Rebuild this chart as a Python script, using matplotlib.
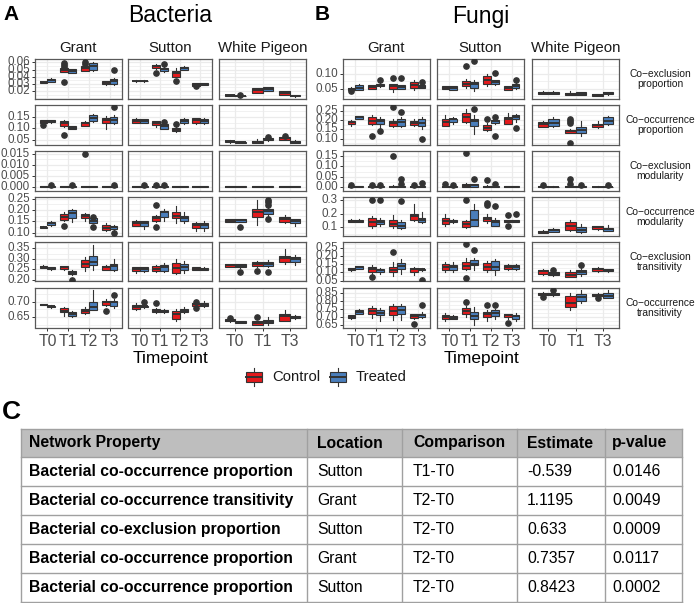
import matplotlib
matplotlib.use("Agg")
import matplotlib.pyplot as plt
from matplotlib.patches import Rectangle
from matplotlib.ticker import MultipleLocator, FormatStrFormatter

plt.rcParams['font.family'] = ['Liberation Sans', 'DejaVu Sans']

# ---------------- data ----------------
TP_FULL = ["T0", "T1", "T2", "T3"]
TP_WP = ["T0", "T1", "T3"]
LOCATIONS = ["Grant", "Sutton", "White Pigeon"]
GROUPS = ["Control", "Treated"]
ROW_LABELS = ["Co\u2212exclusion\nproportion", "Co\u2212occurrence\nproportion",
              "Co\u2212exclusion\nmodularity", "Co\u2212occurrence\nmodularity",
              "Co\u2212exclusion\ntransitivity", "Co\u2212occurrence\ntransitivity"]

# each box: (whisker_low, q1, median, q3, whisker_high, outliers); order T0C, T0T, T1C, T1T, ...
# ---- Bacteria ----
B_EXCL_PROP_GRANT = [(0.0312, 0.0315, 0.032, 0.0325, 0.033, ()), (0.0325, 0.033, 0.035, 0.037, 0.0385, ()),
                     (0.046, 0.047, 0.049, 0.0515, 0.053, (0.0595, 0.056, 0.054, 0.032)), (0.045, 0.0455, 0.048, 0.0505, 0.051, ()),
                     (0.048, 0.0485, 0.0515, 0.055, 0.0555, (0.061, 0.058)), (0.048, 0.049, 0.055, 0.0585, 0.06, ()),
                     (0.029, 0.0295, 0.031, 0.0335, 0.034, ()), (0.029, 0.0295, 0.0335, 0.037, 0.038, (0.049,))]
B_EXCL_PROP_SUTTON = [(0.033, 0.0335, 0.034, 0.0345, 0.035, ()), (0.033, 0.0335, 0.034, 0.0345, 0.035, ()),
                      (0.051, 0.0515, 0.055, 0.057, 0.058, (0.0455,)), (0.047, 0.0475, 0.051, 0.0525, 0.053, (0.0575,)),
                      (0.0395, 0.040, 0.0445, 0.048, 0.0515, (0.0335,)), (0.049, 0.0495, 0.0515, 0.054, 0.0545, ()),
                      (0.027, 0.0275, 0.029, 0.031, 0.0315, (0.0265,)), (0.028, 0.0285, 0.0295, 0.031, 0.0315, ())]
B_EXCL_PROP_WP = [(0.0125, 0.013, 0.014, 0.0145, 0.015, ()), (0.012, 0.0125, 0.013, 0.0135, 0.014, (0.0148,)),
                  (0.017, 0.0178, 0.021, 0.024, 0.0245, ()), (0.0195, 0.020, 0.0228, 0.0255, 0.026, ()),
                  (0.0145, 0.015, 0.017, 0.0195, 0.020, ()), (0.012, 0.0125, 0.0135, 0.0148, 0.015, ())]

B_OCC_PROP_GRANT = [(0.12, 0.122, 0.128, 0.136, 0.138, (0.116,)), (0.124, 0.126, 0.131, 0.134, 0.135, ()),
                    (0.106, 0.110, 0.124, 0.132, 0.135, (0.069,)), (0.095, 0.097, 0.103, 0.108, 0.11, ()),
                    (0.108, 0.110, 0.121, 0.128, 0.13, ()), (0.128, 0.131, 0.143, 0.158, 0.162, ()),
                    (0.0985, 0.124, 0.135, 0.147, 0.153, ()), (0.119, 0.121, 0.135, 0.15, 0.157, (0.193,))]
B_OCC_PROP_SUTTON = [(0.122, 0.124, 0.132, 0.141, 0.143, ()), (0.123, 0.125, 0.132, 0.139, 0.141, ()),
                     (0.105, 0.113, 0.124, 0.13, 0.132, ()), (0.097, 0.099, 0.109, 0.117, 0.119, (0.127,)),
                     (0.084, 0.087, 0.094, 0.101, 0.105, (0.117,)), (0.118, 0.121, 0.131, 0.140, 0.147, ()),
                     (0.12, 0.124, 0.135, 0.143, 0.147, ()), (0.12, 0.122, 0.132, 0.142, 0.145, ())]
B_OCC_PROP_WP = [(0.038, 0.040, 0.044, 0.046, 0.047, ()), (0.034, 0.035, 0.0387, 0.039, 0.040, ()),
                 (0.036, 0.037, 0.041, 0.046, 0.053, ()), (0.046, 0.047, 0.052, 0.056, 0.057, (0.062,)),
                 (0.049, 0.050, 0.057, 0.061, 0.062, (0.068,)), (0.034, 0.035, 0.041, 0.046, 0.047, ())]

B_EXCL_MOD_GRANT = [(0.0, 0.0001, 0.0002, 0.0004, 0.0006, ()), (0.0, 0.0001, 0.0002, 0.0004, 0.0006, (0.0008,)),
                    (0.0, 0.0001, 0.0002, 0.0004, 0.0006, ()), (0.0, 0.0001, 0.0002, 0.0004, 0.0006, (0.0008,)),
                    (0.0, 0.0001, 0.0002, 0.0003, 0.0005, (0.0148,)), (0.0, 0.0001, 0.0002, 0.0004, 0.0005, ()),
                    (0.0, 0.0001, 0.0002, 0.0004, 0.0006, ()), (0.0, 0.0001, 0.0002, 0.0004, 0.0006, (0.0008,))]
B_EXCL_MOD_SUTTON = [(0.0, 0.0001, 0.0002, 0.0004, 0.0006, ()), (0.0, 0.0001, 0.0002, 0.0004, 0.0006, (0.0009,)),
                     (0.0, 0.0001, 0.0002, 0.0004, 0.0006, (0.0008,)), (0.0, 0.0001, 0.0002, 0.0004, 0.0006, (0.0008,)),
                     (0.0, 0.0001, 0.0002, 0.0004, 0.0006, ()), (0.0, 0.0001, 0.0002, 0.0004, 0.0006, ()),
                     (0.0, 0.0001, 0.0002, 0.0003, 0.0005, ()), (0.0, 0.0001, 0.0002, 0.0003, 0.0005, ())]
B_EXCL_MOD_WP = [(0.0, 0.0001, 0.0002, 0.0003, 0.0005, ()), (0.0, 0.0001, 0.0002, 0.0003, 0.0005, ()),
                 (0.0, 0.0001, 0.0002, 0.0003, 0.0005, ()), (0.0, 0.0001, 0.0002, 0.0003, 0.0005, ()),
                 (0.0, 0.0001, 0.0002, 0.0004, 0.0006, ()), (0.0, 0.0001, 0.0002, 0.0003, 0.0005, ())]

B_OCC_MOD_GRANT = [(0.118, 0.120, 0.123, 0.126, 0.128, ()), (0.128, 0.133, 0.141, 0.148, 0.150, ()),
                   (0.150, 0.155, 0.170, 0.180, 0.192, (0.129,)), (0.148, 0.165, 0.187, 0.199, 0.202, ()),
                   (0.150, 0.1625, 0.173, 0.180, 0.187, ()), (0.140, 0.144, 0.152, 0.1625, 0.165, (0.170, 0.126)),
                   (0.105, 0.109, 0.119, 0.133, 0.143, ()), (0.110, 0.114, 0.123, 0.130, 0.132, (0.0975,))]
B_OCC_MOD_SUTTON = [(0.127, 0.130, 0.144, 0.151, 0.154, ()), (0.115, 0.128, 0.144, 0.149, 0.150, ()),
                    (0.145, 0.152, 0.166, 0.174, 0.178, (0.224, 0.123)), (0.150, 0.167, 0.189, 0.196, 0.203, ()),
                    (0.14, 0.1625, 0.174, 0.192, 0.217, ()), (0.14, 0.151, 0.1625, 0.174, 0.192, ()),
                    (0.108, 0.122, 0.133, 0.141, 0.148, ()), (0.107, 0.119, 0.133, 0.144, 0.15, ())]
B_OCC_MOD_WP = [(0.146, 0.148, 0.152, 0.158, 0.159, ()), (0.145, 0.148, 0.155, 0.160, 0.162, (0.126,)),
                (0.133, 0.170, 0.189, 0.206, 0.246, ()), (0.17, 0.184, 0.195, 0.203, 0.21, (0.245, 0.235, 0.224, 0.158)),
                (0.140, 0.145, 0.158, 0.170, 0.177, ()), (0.130, 0.144, 0.151, 0.158, 0.162, ())]

B_EXCL_TRANS_GRANT = [(0.256, 0.258, 0.262, 0.267, 0.269, ()), (0.247, 0.250, 0.255, 0.260, 0.261, ()),
                      (0.247, 0.252, 0.259, 0.265, 0.268, ()), (0.223, 0.229, 0.234, 0.241, 0.245, (0.197,)),
                      (0.240, 0.259, 0.275, 0.295, 0.31, ()), (0.249, 0.270, 0.286, 0.314, 0.368, ()),
                      (0.245, 0.249, 0.259, 0.265, 0.272, ()), (0.243, 0.249, 0.265, 0.278, 0.30, ())]
B_EXCL_TRANS_SUTTON = [(0.234, 0.242, 0.250, 0.259, 0.262, ()), (0.238, 0.242, 0.250, 0.259, 0.261, ()),
                       (0.238, 0.241, 0.250, 0.265, 0.273, ()), (0.238, 0.242, 0.259, 0.270, 0.282, ()),
                       (0.228, 0.234, 0.257, 0.282, 0.30, ()), (0.234, 0.246, 0.262, 0.275, 0.29, ()),
                       (0.246, 0.249, 0.254, 0.259, 0.263, ()), (0.246, 0.249, 0.253, 0.257, 0.259, ())]
B_EXCL_TRANS_WP = [(0.26, 0.262, 0.269, 0.2735, 0.275, ()), (0.257, 0.259, 0.267, 0.2735, 0.275, (0.2376,)),
                   (0.262, 0.267, 0.276, 0.286, 0.289, (0.2425,)), (0.262, 0.267, 0.276, 0.283, 0.294, (0.2376,)),
                   (0.278, 0.283, 0.303, 0.314, 0.346, ()), (0.269, 0.286, 0.298, 0.308, 0.32, ())]

B_OCC_TRANS_GRANT = [(0.688, 0.689, 0.690, 0.692, 0.693, ()), (0.681, 0.682, 0.685, 0.687, 0.688, ()),
                     (0.655, 0.666, 0.671, 0.679, 0.684, ()), (0.650, 0.655, 0.660, 0.666, 0.671, ()),
                     (0.660, 0.663, 0.669, 0.677, 0.684, ()), (0.673, 0.673, 0.682, 0.698, 0.735, ()),
                     (0.687, 0.689, 0.698, 0.703, 0.708, (0.671,)), (0.680, 0.687, 0.697, 0.703, 0.708, (0.719,))]
B_OCC_TRANS_SUTTON = [(0.674, 0.677, 0.684, 0.690, 0.695, ()), (0.68, 0.682, 0.685, 0.687, 0.69, (0.70,)),
                      (0.664, 0.666, 0.671, 0.677, 0.68, (0.695,)), (0.664, 0.666, 0.670, 0.673, 0.675, ()),
                      (0.638, 0.645, 0.661, 0.671, 0.677, ()), (0.664, 0.666, 0.671, 0.677, 0.684, ()),
                      (0.684, 0.687, 0.693, 0.696, 0.698, (0.70, 0.679)), (0.682, 0.687, 0.690, 0.695, 0.703, ())]
B_OCC_TRANS_WP = [(0.636, 0.637, 0.640, 0.6436, 0.644, (0.647,)), (0.631, 0.632, 0.635, 0.638, 0.639, ()),
                  (0.625, 0.627, 0.632, 0.637, 0.639, (0.65,)), (0.627, 0.631, 0.636, 0.6415, 0.65, ()),
                  (0.637, 0.639, 0.653, 0.661, 0.673, ()), (0.646, 0.648, 0.652, 0.655, 0.656, ())]

# ---- Fungi ----
F_EXCL_PROP_GRANT = [(0.045, 0.0455, 0.049, 0.053, 0.055, (0.041,)), (0.0445, 0.047, 0.053, 0.061, 0.067, ()),
                     (0.048, 0.05, 0.0556, 0.061, 0.063, ()), (0.055, 0.058, 0.060, 0.0667, 0.07, (0.078,)),
                     (0.039, 0.05, 0.058, 0.0644, 0.067, (0.0867,)), (0.048, 0.05, 0.056, 0.061, 0.063, (0.0867,)),
                     (0.047, 0.053, 0.063, 0.072, 0.080, ()), (0.052, 0.053, 0.056, 0.061, 0.063, (0.072,))]
F_EXCL_PROP_SUTTON = [(0.049, 0.05, 0.053, 0.058, 0.059, ()), (0.045, 0.0467, 0.053, 0.058, 0.06, ()),
                      (0.053, 0.058, 0.0667, 0.0756, 0.083, (0.1256,)), (0.042, 0.053, 0.064, 0.072, 0.078, (0.142,)),
                      (0.058, 0.0667, 0.078, 0.091, 0.10, ()), (0.062, 0.0644, 0.072, 0.078, 0.08, (0.103,)),
                      (0.045, 0.0467, 0.053, 0.058, 0.06, ()), (0.05, 0.053, 0.059, 0.064, 0.068, (0.080,))]
F_EXCL_PROP_WP = [(0.032, 0.033, 0.0367, 0.04, 0.041, ()), (0.032, 0.033, 0.0367, 0.04, 0.041, ()),
                  (0.028, 0.028, 0.031, 0.0367, 0.044, ()), (0.029, 0.030, 0.033, 0.038, 0.039, ()),
                  (0.026, 0.0267, 0.030, 0.033, 0.034, ()), (0.030, 0.031, 0.035, 0.0378, 0.038, ())]

F_OCC_PROP_GRANT = [(0.168, 0.181, 0.1886, 0.196, 0.20, ()), (0.206, 0.208, 0.2175, 0.221, 0.223, ()),
                    (0.176, 0.181, 0.196, 0.214, 0.226, (0.113,)), (0.158, 0.178, 0.196, 0.208, 0.217, (0.1416,)),
                    (0.163, 0.167, 0.1867, 0.196, 0.208, (0.268,)), (0.163, 0.167, 0.19, 0.208, 0.217, (0.2446,)),
                    (0.167, 0.172, 0.1867, 0.196, 0.208, ()), (0.154, 0.169, 0.1867, 0.208, 0.217, (0.10,))]
F_OCC_PROP_SUTTON = [(0.167, 0.169, 0.19, 0.208, 0.226, ()), (0.181, 0.19, 0.205, 0.208, 0.217, ()),
                     (0.185, 0.19, 0.214, 0.2355, 0.26, ()), (0.1235, 0.167, 0.196, 0.208, 0.226, (0.259,)),
                     (0.141, 0.149, 0.16, 0.172, 0.185, (0.208,)), (0.181, 0.185, 0.196, 0.203, 0.205, (0.214, 0.113)),
                     (0.178, 0.181, 0.208, 0.2175, 0.239, ()), (0.19, 0.205, 0.2175, 0.2265, 0.235, (0.16,))]
F_OCC_PROP_WP = [(0.163, 0.163, 0.178, 0.19, 0.196, ()), (0.163, 0.169, 0.187, 0.205, 0.2145, ()),
                 (0.13, 0.131, 0.1416, 0.149, 0.152, (0.208, 0.196, 0.187, 0.0765)), (0.113, 0.132, 0.149, 0.163, 0.196, ()),
                 (0.16, 0.163, 0.174, 0.181, 0.196, ()), (0.172, 0.178, 0.196, 0.214, 0.22, ())]

F_EXCL_MOD_GRANT = [(0.0, 0.002, 0.004, 0.006, 0.008, (0.012,)), (0.0, 0.001, 0.003, 0.005, 0.007, ()),
                    (0.0, 0.002, 0.004, 0.006, 0.008, (0.013,)), (0.0, 0.001, 0.003, 0.005, 0.007, (0.012,)),
                    (0.0, 0.002, 0.004, 0.006, 0.009, (0.147,)), (0.0, 0.001, 0.003, 0.006, 0.01, (0.038, 0.015)),
                    (0.0, 0.002, 0.004, 0.006, 0.008, (0.012,)), (0.0, 0.002, 0.004, 0.007, 0.01, (0.019,))]
F_EXCL_MOD_SUTTON = [(0.0, 0.001, 0.003, 0.005, 0.007, (0.015,)), (0.0, 0.001, 0.003, 0.005, 0.007, (0.010,)),
                     (0.0, 0.003, 0.008, 0.015, 0.02, (0.165,)), (0.0, 0.004, 0.01, 0.014, 0.018, (0.0385,)),
                     (0.0, 0.002, 0.004, 0.006, 0.009, (0.034,)), (0.0, 0.002, 0.004, 0.007, 0.01, (0.015,)),
                     (0.0, 0.001, 0.003, 0.005, 0.007, ()), (0.0, 0.001, 0.003, 0.005, 0.007, ())]
F_EXCL_MOD_WP = [(0.0, 0.001, 0.003, 0.005, 0.007, (0.012,)), (0.0, 0.001, 0.002, 0.004, 0.006, ()),
                 (0.0, 0.002, 0.004, 0.006, 0.008, (0.0385, 0.015)), (0.0, 0.001, 0.003, 0.005, 0.007, (0.012,)),
                 (0.0, 0.001, 0.002, 0.004, 0.006, ()), (0.0, 0.001, 0.002, 0.004, 0.006, (0.01,))]

F_OCC_MOD_GRANT = [(0.135, 0.137, 0.146, 0.156, 0.158, ()), (0.135, 0.137, 0.146, 0.156, 0.158, ()),
                   (0.09, 0.111, 0.139, 0.168, 0.18, (0.30,)), (0.105, 0.126, 0.141, 0.156, 0.168, (0.30,)),
                   (0.09, 0.109, 0.126, 0.151, 0.19, ()), (0.085, 0.092, 0.111, 0.137, 0.15, (0.296,)),
                   (0.143, 0.156, 0.18, 0.20, 0.27, ()), (0.13, 0.137, 0.153, 0.17, 0.21, ())]
F_OCC_MOD_SUTTON = [(0.11, 0.121, 0.143, 0.168, 0.20, ()), (0.128, 0.136, 0.146, 0.156, 0.16, ()),
                    (0.09, 0.104, 0.12, 0.143, 0.156, (0.306,)), (0.105, 0.111, 0.155, 0.23, 0.27, ()),
                    (0.13, 0.143, 0.163, 0.175, 0.20, (0.28, 0.267)), (0.107, 0.11, 0.137, 0.153, 0.17, (0.26,)),
                    (0.136, 0.136, 0.148, 0.153, 0.153, (0.19, 0.11)), (0.136, 0.136, 0.146, 0.153, 0.153, (0.195,))]
F_OCC_MOD_WP = [(0.055, 0.057, 0.066, 0.074, 0.076, ()), (0.062, 0.067, 0.077, 0.087, 0.09, ()),
                (0.07, 0.081, 0.111, 0.136, 0.15, ()), (0.055, 0.064, 0.081, 0.10, 0.12, ()),
                (0.08, 0.087, 0.099, 0.106, 0.111, ()), (0.07, 0.074, 0.087, 0.094, 0.115, ())]

F_EXCL_TRANS_GRANT = [(0.11, 0.112, 0.119, 0.1265, 0.128, ()), (0.12, 0.123, 0.13, 0.137, 0.138, ()),
                      (0.09, 0.102, 0.119, 0.133, 0.145, (0.071,)), (0.09, 0.10, 0.112, 0.12, 0.128, ()),
                      (0.075, 0.10, 0.117, 0.135, 0.16, (0.225,)), (0.09, 0.123, 0.136, 0.157, 0.18, ()),
                      (0.086, 0.099, 0.119, 0.1265, 0.133, ()), (0.108, 0.112, 0.119, 0.12, 0.125, (0.051,))]
F_EXCL_TRANS_SUTTON = [(0.10, 0.112, 0.134, 0.149, 0.164, ()), (0.10, 0.114, 0.134, 0.147, 0.16, ()),
                       (0.112, 0.123, 0.138, 0.164, 0.187, (0.273, 0.067)), (0.112, 0.143, 0.153, 0.178, 0.19, (0.236,)),
                       (0.10, 0.112, 0.134, 0.154, 0.168, ()), (0.081, 0.112, 0.133, 0.168, 0.18, ()),
                       (0.112, 0.12, 0.134, 0.147, 0.153, ()), (0.115, 0.12, 0.132, 0.143, 0.148, ())]
F_EXCL_TRANS_WP = [(0.086, 0.092, 0.107, 0.117, 0.123, ()), (0.078, 0.081, 0.090, 0.102, 0.104, (0.115,)),
                   (0.07, 0.071, 0.086, 0.102, 0.112, ()), (0.078, 0.088, 0.10, 0.117, 0.128, (0.143,)),
                   (0.10, 0.108, 0.119, 0.126, 0.133, ()), (0.105, 0.108, 0.112, 0.119, 0.12, ())]

F_OCC_TRANS_GRANT = [(0.69, 0.693, 0.70, 0.71, 0.712, ()), (0.716, 0.721, 0.731, 0.742, 0.75, ()),
                     (0.693, 0.716, 0.74, 0.76, 0.77, ()), (0.675, 0.71, 0.727, 0.747, 0.758, ()),
                     (0.68, 0.714, 0.74, 0.768, 0.78, ()), (0.68, 0.721, 0.746, 0.768, 0.78, ()),
                     (0.69, 0.693, 0.705, 0.716, 0.72, (0.656,)), (0.695, 0.699, 0.714, 0.721, 0.73, (0.775,))]
F_OCC_TRANS_SUTTON = [(0.675, 0.689, 0.70, 0.714, 0.725, ()), (0.685, 0.689, 0.695, 0.707, 0.71, ()),
                      (0.70, 0.716, 0.74, 0.757, 0.77, (0.796,)), (0.65, 0.689, 0.705, 0.731, 0.765, ()),
                      (0.675, 0.70, 0.716, 0.731, 0.742, (0.775,)), (0.69, 0.705, 0.725, 0.742, 0.75, (0.775,)),
                      (0.689, 0.70, 0.711, 0.716, 0.72, (0.66,)), (0.675, 0.689, 0.705, 0.714, 0.725, ())]
F_OCC_TRANS_WP = [(0.835, 0.839, 0.847, 0.854, 0.856, (0.824,)), (0.835, 0.839, 0.845, 0.85, 0.852, (0.871,)),
                  (0.742, 0.764, 0.79, 0.833, 0.85, ()), (0.79, 0.802, 0.824, 0.846, 0.87, ()),
                  (0.828, 0.83, 0.839, 0.846, 0.85, (0.822,)), (0.818, 0.82, 0.835, 0.854, 0.87, ())]

# ---- Table ----
TABLE_HEADER = ["Network Property", "Location", "Comparison", "Estimate", "p-value"]
TAB_PROPERTY = ["Bacterial co-occurrence proportion", "Bacterial co-occurrence transitivity",
                "Bacterial co-exclusion proportion", "Bacterial co-occurrence proportion",
                "Bacterial co-occurrence proportion"]
TAB_LOCATION = ["Sutton", "Grant", "Sutton", "Grant", "Sutton"]
TAB_COMPARISON = ["T1-T0", "T2-T0", "T2-T0", "T2-T0", "T2-T0"]
TAB_ESTIMATE = ["-0.539", "1.1195", "0.633", "0.7357", "0.8423"]
TAB_PVALUE = ["0.0146", "0.0049", "0.0009", "0.0117", "0.0002"]

# ---------------- layout / style ----------------
BAC_PANELS = [
    [B_EXCL_PROP_GRANT, B_EXCL_PROP_SUTTON, B_EXCL_PROP_WP],
    [B_OCC_PROP_GRANT, B_OCC_PROP_SUTTON, B_OCC_PROP_WP],
    [B_EXCL_MOD_GRANT, B_EXCL_MOD_SUTTON, B_EXCL_MOD_WP],
    [B_OCC_MOD_GRANT, B_OCC_MOD_SUTTON, B_OCC_MOD_WP],
    [B_EXCL_TRANS_GRANT, B_EXCL_TRANS_SUTTON, B_EXCL_TRANS_WP],
    [B_OCC_TRANS_GRANT, B_OCC_TRANS_SUTTON, B_OCC_TRANS_WP],
]
FUN_PANELS = [
    [F_EXCL_PROP_GRANT, F_EXCL_PROP_SUTTON, F_EXCL_PROP_WP],
    [F_OCC_PROP_GRANT, F_OCC_PROP_SUTTON, F_OCC_PROP_WP],
    [F_EXCL_MOD_GRANT, F_EXCL_MOD_SUTTON, F_EXCL_MOD_WP],
    [F_OCC_MOD_GRANT, F_OCC_MOD_SUTTON, F_OCC_MOD_WP],
    [F_EXCL_TRANS_GRANT, F_EXCL_TRANS_SUTTON, F_EXCL_TRANS_WP],
    [F_OCC_TRANS_GRANT, F_OCC_TRANS_SUTTON, F_OCC_TRANS_WP],
]
BAC_YLIM = [(0.0096, 0.0647), (0.0294, 0.2015), (-0.0016, 0.0162), (0.0824, 0.2573), (0.192, 0.381), (0.618, 0.7426)]
BAC_YTICKS = [[0.02, 0.03, 0.04, 0.05, 0.06], [0.05, 0.10, 0.15], [0.0, 0.005, 0.010, 0.015],
              [0.10, 0.15, 0.20, 0.25], [0.20, 0.25, 0.30, 0.35], [0.65, 0.70]]
BAC_FMT = ["%.2f", "%.2f", "%.3f", "%.2f", "%.2f", "%.2f"]
FUN_YLIM = [(0.0178, 0.1478), (0.0693, 0.2807), (-0.015, 0.173), (0.03, 0.326), (0.044, 0.285), (0.633, 0.884)]
FUN_YTICKS = [[0.05, 0.10], [0.10, 0.15, 0.20, 0.25], [0.0, 0.05, 0.10, 0.15], [0.1, 0.2, 0.3],
              [0.05, 0.10, 0.15, 0.20, 0.25], [0.65, 0.70, 0.75, 0.80, 0.85]]
FUN_FMT = ["%.2f", "%.2f", "%.2f", "%.1f", "%.2f", "%.2f"]

COLORS = ["#E41A1C", "#4A7EBB"]
DARK = "#333333"
GRID = "#EBEBEB"

W, H = 696, 603
fig = plt.figure(figsize=(W / 100, H / 100), dpi=100)

BAC_X = [(35, 122), (128, 212), (219, 306)]
FUN_X = [(343, 430), (437, 524), (532, 619)]
ROW_TOP = [59, 105, 151, 197, 242, 288]
ROW_H = 39.5


def add_ax(x0, x1, ytop, h):
    return fig.add_axes([x0 / W, 1 - (ytop + h) / H, (x1 - x0) / W, h / H])


def draw_panel(ax, boxes, tps, ylim, yticks, fmt, show_y, show_x):
    stats, pos, cols = [], [], []
    for i in range(len(tps)):
        for g in range(2):
            b = boxes[2 * i + g]
            stats.append(dict(whislo=b[0], q1=b[1], med=b[2], q3=b[3], whishi=b[4], fliers=list(b[5])))
            pos.append(i + 1 + (-0.19 if g == 0 else 0.19))
            cols.append(COLORS[g])
    res = ax.bxp(stats, positions=pos, widths=0.38, patch_artist=True, showcaps=False,
                 boxprops=dict(edgecolor=DARK, linewidth=0.8),
                 whiskerprops=dict(color=DARK, linewidth=0.8),
                 medianprops=dict(color=DARK, linewidth=1.4),
                 flierprops=dict(marker='o', markerfacecolor=DARK, markeredgecolor=DARK,
                                 markersize=3.8, linestyle='none'),
                 manage_ticks=False, zorder=3)
    for patch, c in zip(res['boxes'], cols):
        patch.set_facecolor(c)
    n = len(tps)
    ax.set_xlim(0.4, n + 0.6)
    ax.set_ylim(*ylim)
    ax.set_xticks(range(1, n + 1))
    ax.set_xticklabels(tps)
    ax.set_yticks(yticks)
    step = yticks[1] - yticks[0]
    ax.yaxis.set_minor_locator(MultipleLocator(step / 2))
    ax.yaxis.set_major_formatter(FormatStrFormatter(fmt))
    ax.set_axisbelow(True)
    ax.grid(True, which='major', color=GRID, linewidth=0.9)
    ax.grid(True, which='minor', axis='y', color=GRID, linewidth=0.5)
    for s in ax.spines.values():
        s.set_color("#595959")
        s.set_linewidth(0.9)
    ax.tick_params(which='minor', length=0)
    ax.tick_params(axis='y', which='major', length=2.5, width=0.7, color=DARK, pad=1.2,
                   labelsize=8.4, labelcolor="#4D4D4D", left=show_y, labelleft=show_y)
    ax.tick_params(axis='x', which='major', length=2.5, width=0.7, color=DARK, pad=2,
                   labelsize=11.3, labelcolor="#4D4D4D", bottom=show_x, labelbottom=show_x)
    if show_y:
        for lab in ax.get_yticklabels():
            lab.set_verticalalignment('center')


for panels, xs, ylims, yts, fmts in [(BAC_PANELS, BAC_X, BAC_YLIM, BAC_YTICKS, BAC_FMT),
                                      (FUN_PANELS, FUN_X, FUN_YLIM, FUN_YTICKS, FUN_FMT)]:
    for r in range(6):
        for c in range(3):
            ax = add_ax(xs[c][0], xs[c][1], ROW_TOP[r], ROW_H)
            tps = TP_WP if c == 2 else TP_FULL
            draw_panel(ax, panels[r][c], tps, ylims[r], yts[r], fmts[r], c == 0, r == 5)

# ---------------- overlay text ----------------
ov = fig.add_axes([0, 0, 1, 1], zorder=-1)
ov.set_xlim(0, W)
ov.set_ylim(H, 0)
ov.axis('off')

TXT = "#1A1A1A"
ov.text(3, 15, "A", fontsize=15, fontweight='bold', ha='left', va='center', color='black')
ov.text(315, 15, "B", fontsize=15, fontweight='bold', ha='left', va='center', color='black')
ov.text(2, 412, "C", fontsize=19, fontweight='bold', ha='left', va='center', color='black')
ov.text(170, 16, "Bacteria", fontsize=16.5, ha='center', va='center', color='black')
ov.text(481, 16, "Fungi", fontsize=16.5, ha='center', va='center', color='black')

for xs in (BAC_X, FUN_X):
    for c, loc in enumerate(LOCATIONS):
        ov.text((xs[c][0] + xs[c][1]) / 2, 48, loc, fontsize=10.8, ha='center', va='center', color=TXT)
    ov.text((xs[0][0] + xs[2][1]) / 2, 358, "Timepoint", fontsize=12.5, ha='center', va='center', color='black')

for r, lab in enumerate(ROW_LABELS):
    ov.text(660, ROW_TOP[r] + ROW_H / 2, lab, fontsize=7.4, ha='center', va='center',
            color=TXT, linespacing=1.05)

# legend keys
for i, (x0, name) in enumerate([(246, GROUPS[0]), (330, GROUPS[1])]):
    ov.plot([x0 + 8, x0 + 8], [368, 372], color=DARK, lw=0.8)
    ov.plot([x0 + 8, x0 + 8], [382, 386], color=DARK, lw=0.8)
    ov.add_patch(Rectangle((x0, 372), 16, 10, facecolor=COLORS[i], edgecolor=DARK, lw=0.8))
    ov.plot([x0, x0 + 16], [377, 377], color=DARK, lw=1.4)
    ov.text(x0 + 26, 377, name, fontsize=10.7, ha='left', va='center', color=TXT)

# table
COL_X = [21, 307, 402, 517, 605, 682]
ROW_Y = [429, 457, 486, 515, 544, 573, 602]
LINE = "#A0A0A0"
ov.add_patch(Rectangle((COL_X[0], ROW_Y[0]), COL_X[-1] - COL_X[0], ROW_Y[1] - ROW_Y[0],
                       facecolor="#BEBEBE", edgecolor='none'))
for y in ROW_Y:
    ov.plot([COL_X[0], COL_X[-1]], [y, y], color=LINE, lw=1.0)
for x in COL_X:
    ov.plot([x, x], [ROW_Y[0], ROW_Y[-1]], color=LINE, lw=1.0)
PADS = [8, 10, 11, 10, 7]
for j, h in enumerate(TABLE_HEADER):
    ov.text(COL_X[j] + PADS[j], (ROW_Y[0] + ROW_Y[1]) / 2, h, fontsize=11.3, fontweight='bold',
            ha='left', va='center', color='black')
columns = [TAB_PROPERTY, TAB_LOCATION, TAB_COMPARISON, TAB_ESTIMATE, TAB_PVALUE]
for i in range(len(TAB_PROPERTY)):
    yc = (ROW_Y[i + 1] + ROW_Y[i + 2]) / 2
    for j, col in enumerate(columns):
        ov.text(COL_X[j] + PADS[j], yc, col[i], fontsize=11.3,
                fontweight='bold' if j == 0 else 'normal', ha='left', va='center', color='black')

fig.savefig("out.png", dpi=100, facecolor='white')
